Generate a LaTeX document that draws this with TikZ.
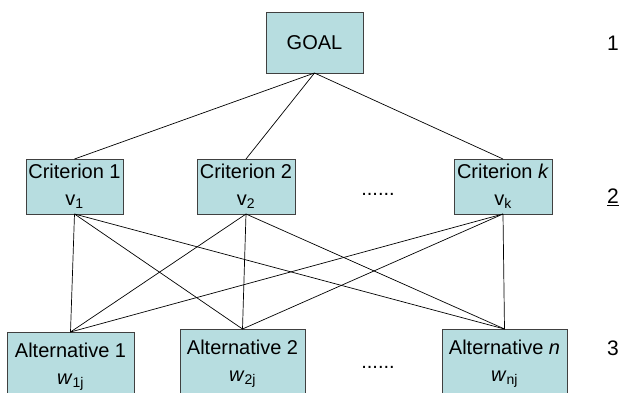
\documentclass[tikz,border=0pt]{standalone}
\usepackage{fontspec}
\setmainfont{Liberation Sans}
\definecolor{boxfill}{HTML}{B7DDE0}
\definecolor{boxline}{HTML}{404040}
\begin{document}
\begin{tikzpicture}[x=1pt,y=-1pt,
  box/.style={draw=boxline,fill=boxfill,line width=0.9pt,inner sep=0pt,outer sep=0pt,
    align=center,font=\fontsize{20}{27}\selectfont},
  link/.style={draw=black,line width=0.7pt},
  lvl/.style={font=\fontsize{21}{24}\selectfont,inner sep=0pt}]
\clip (0,0) rectangle (622,392);
\fill[white] (0,0) rectangle (622,392);
\node[box,minimum width=97pt,minimum height=61pt] (goal) at (314.5,42.5) {GOAL};
\node[box,minimum width=97pt,minimum height=55pt] (c1) at (74.5,186.5) {Criterion 1\\v\textsubscript{1}};
\node[box,minimum width=98pt,minimum height=55pt] (c2) at (246,186.5) {Criterion 2\\v\textsubscript{2}};
\node[box,minimum width=98pt,minimum height=55pt] (ck) at (503,186.5) {Criterion \textit{k}\\v\textsubscript{k}};
\node[box,minimum width=127pt,minimum height=70pt] (a1) at (70.5,367) {Alternative 1\\\textit{w}\textsubscript{1j}};
\node[box,minimum width=125pt,minimum height=70pt] (a2) at (242.5,364) {Alternative 2\\\textit{w}\textsubscript{2j}};
\node[box,minimum width=125pt,minimum height=70pt] (an) at (504.5,364) {Alternative \textit{n}\\\textit{w}\textsubscript{nj}};
\node[font=\fontsize{20}{24}\selectfont] (d1) at (378,194) {......};
\node[font=\fontsize{20}{24}\selectfont] (d2) at (378,367) {......};
\node[lvl] (l1) at (613,43) {1};
\node[lvl] (l2) at (613,197) {\underline{2}};
\node[lvl] (l3) at (613,348) {3};
\foreach \c in {c1,c2,ck} {
  \draw[link] (goal.south) -- (\c.north);
  \foreach \a in {a1,a2,an} {
    \draw[link] (\c.south) -- (\a.north);
  }
}
\end{tikzpicture}
\end{document}
